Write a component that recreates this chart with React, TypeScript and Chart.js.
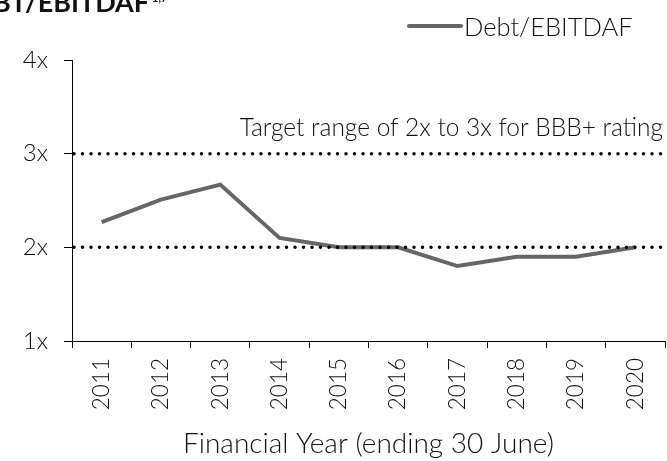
import React, { useEffect, useRef } from "react";
import { Chart, registerables } from "chart.js";

Chart.register(...registerables);

const categories = ["2011", "2012", "2013", "2014", "2015", "2016", "2017", "2018", "2019", "2020"];
const debtEbitdaf = [2.27, 2.51, 2.67, 2.1, 2.0, 2.0, 1.8, 1.9, 1.9, 2.0];
const targetLines = [2, 3];
const yTicks = [1, 2, 3, 4];
const seriesLabel = "Debt/EBITDAF";
const targetText = "Target range of 2x to 3x for BBB+ rating";
const chartTitle = "BT/EBITDAF";
const titleSup = "1,7";
const xTitle = "Financial Year (ending 30 June)";

const FONT = "Lato, 'Noto Sans', sans-serif";
const LINE_COLOR = "#66666a";
const TEXT_COLOR = "#111111";

const overlayPlugin = {
  id: "overlay",
  afterDatasetsDraw(chart: any) {
    const { ctx, chartArea, scales } = chart;
    const y = scales.y;
    ctx.save();
    // dotted target lines
    ctx.strokeStyle = "#000";
    ctx.lineWidth = 3.5;
    ctx.lineCap = "round";
    ctx.setLineDash([0, 8.5]);
    targetLines.forEach((v) => {
      const py = y.getPixelForValue(v);
      ctx.beginPath();
      ctx.moveTo(chartArea.left + 2, py);
      ctx.lineTo(chartArea.right, py);
      ctx.stroke();
    });
    ctx.setLineDash([]);
    // target text
    ctx.fillStyle = TEXT_COLOR;
    ctx.font = `300 24.5px ${FONT}`;
    ctx.textAlign = "right";
    ctx.textBaseline = "alphabetic";
    ctx.fillText(targetText, chartArea.right - 2, y.getPixelForValue(3) - 18);
    // custom legend
    const ds = chart.data.datasets[0];
    ctx.strokeStyle = ds.borderColor;
    ctx.lineWidth = 4;
    ctx.lineCap = "round";
    ctx.beginPath();
    ctx.moveTo(409, 26);
    ctx.lineTo(461, 26);
    ctx.stroke();
    ctx.textAlign = "left";
    ctx.font = `300 25.5px ${FONT}`;
    ctx.fillText(ds.label, 464, 36);
    // title (cut at top)
    ctx.font = `bold 27px ${FONT}`;
    ctx.fillText(chartTitle, -7, 12);
    const tw = ctx.measureText(chartTitle).width;
    ctx.font = `bold 11px ${FONT}`;
    ctx.fillText(titleSup, -7 + tw + 3, 2);
    ctx.restore();
  },
};

export default function App() {
  const ref = useRef<HTMLCanvasElement>(null);
  useEffect(() => {
    document.body.style.margin = "0";
    const chart = new Chart(ref.current!, {
      type: "line",
      data: {
        labels: categories,
        datasets: [
          {
            label: seriesLabel,
            data: debtEbitdaf,
            borderColor: LINE_COLOR,
            backgroundColor: LINE_COLOR,
            borderWidth: 4,
            pointRadius: 0,
            tension: 0,
          },
        ],
      },
      options: {
        responsive: false,
        animation: false,
        layout: { padding: { top: 60, left: 0, right: 2, bottom: 0 } },
        plugins: { legend: { display: false }, tooltip: { enabled: false } },
        scales: {
          x: {
            type: "category",
            offset: true,
            afterFit(scale: any) {
              scale.height = 120;
              scale.paddingLeft = 0;
              scale.paddingRight = 0;
            },
            grid: {
              offset: true,
              drawOnChartArea: false,
              drawTicks: true,
              tickLength: 7,
              color: "#000",
            },
            border: { display: true, color: "#000", width: 1 },
            ticks: {
              minRotation: 90,
              maxRotation: 90,
              padding: 10,
              color: TEXT_COLOR,
              font: { family: FONT, size: 22.5, weight: "300" as any },
            },
            title: {
              display: true,
              text: xTitle,
              color: TEXT_COLOR,
              padding: { top: 0, bottom: 0 },
              font: { family: FONT, size: 28, weight: "300" as any },
            },
          },
          y: {
            min: 1,
            max: 4,
            afterFit(scale: any) {
              scale.width = 72;
            },
            afterBuildTicks(scale: any) {
              scale.ticks = yTicks.map((v) => ({ value: v }));
            },
            grid: {
              drawOnChartArea: false,
              drawTicks: true,
              tickLength: 8,
              color: "#000",
            },
            border: { display: true, color: "#000", width: 1 },
            ticks: {
              padding: 16,
              color: TEXT_COLOR,
              font: { family: FONT, size: 24, weight: "300" as any },
              callback: (v: any) => `${v}x`,
            },
          },
        },
      },
      plugins: [overlayPlugin],
    });
    return () => chart.destroy();
  }, []);
  return (
    <div style={{ position: "fixed", left: 0, top: 0, width: 667, height: 461, background: "#fff" }}>
      <canvas ref={ref} width={667} height={461} />
    </div>
  );
}
